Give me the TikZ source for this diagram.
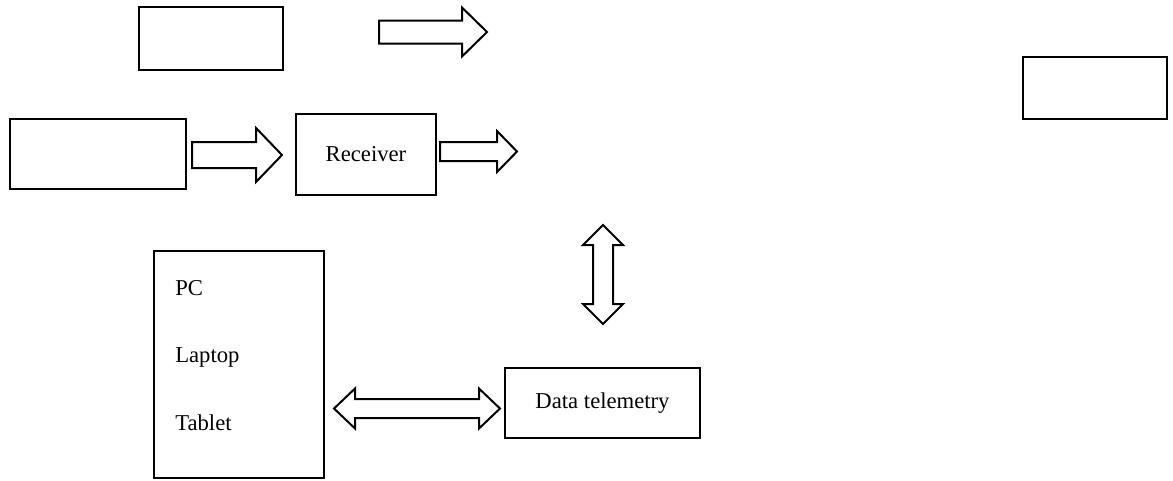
\documentclass[tikz,border=0pt]{standalone}
\usepackage{fontspec}
\setmainfont{Liberation Serif}
\usetikzlibrary{fit}

% block arrow pointing right: tail x, head base x, tip x, centre y, half shaft, half head
\newcommand\blkArrowE[6]{%
  \draw[blockarrow] (#1,#4-#5) -- (#2,#4-#5) -- (#2,#4-#6) -- (#3,#4)
    -- (#2,#4+#6) -- (#2,#4+#5) -- (#1,#4+#5) -- cycle;}
% horizontal double block arrow: left tip, left base, right base, right tip, centre y, half shaft, half head
\newcommand\blkArrowH[7]{%
  \draw[blockarrow] (#1,#5) -- (#2,#5-#7) -- (#2,#5-#6) -- (#3,#5-#6) -- (#3,#5-#7)
    -- (#4,#5) -- (#3,#5+#7) -- (#3,#5+#6) -- (#2,#5+#6) -- (#2,#5+#7) -- cycle;}
% vertical double block arrow: top tip, top base, bottom base, bottom tip, centre x, half shaft, half head
\newcommand\blkArrowV[7]{%
  \draw[blockarrow] (#5,#1) -- (#5+#7,#2) -- (#5+#6,#2) -- (#5+#6,#3) -- (#5+#7,#3)
    -- (#5,#4) -- (#5-#7,#3) -- (#5-#6,#3) -- (#5-#6,#2) -- (#5-#7,#2) -- cycle;}

\tikzset{
  box/.style={draw=black, line width=1.6pt, inner sep=0pt, fill=white},
  thickbox/.style={box, line width=2pt},
  blockarrow/.style={draw=black, line width=1.5pt, fill=white, line join=miter},
  lbl/.style={font=\fontsize{17}{20}\selectfont, inner sep=0pt},
}

\begin{document}
\begin{tikzpicture}[x=0.75pt, y=-0.75pt]
  \useasboundingbox (0,0) rectangle (1173,480);

  % boxes
  \node[thickbox, fit={(139,7) (283,70)}] (topbox) {};
  \node[thickbox, fit={(1023,57) (1167,119)}] (rightbox) {};
  \node[box, fit={(10,119) (186,189)}] (leftbox) {};
  \node[box, fit={(296,114) (436,195)}] (receiver) {};
  \node[lbl] (receivertext) at (receiver.center) {Receiver};
  \node[box, fit={(154,251) (324,478)}] (devices) {};
  \node[lbl, anchor=west] (pc) at (175,288) {PC};
  \node[lbl, anchor=west] (laptop) at (175,357) {Laptop};
  \node[lbl, anchor=west] (tablet) at (175,423) {Tablet};
  \node[box, fit={(505,368) (700,438)}] (telemetry) {};
  \node[lbl] (telemetrytext) at (telemetry.center) {Data telemetry};

  % block arrows
  \blkArrowE{379}{462}{487}{32}{11.5}{24.5}
  \blkArrowE{192}{256}{282}{155}{13}{27}
  \blkArrowE{440}{497}{517}{151.5}{9.5}{20.5}
  \blkArrowV{225}{245}{304}{324}{603}{10}{20}
  \blkArrowH{334}{355}{479}{500}{408.5}{9.5}{20}
\end{tikzpicture}
\end{document}
